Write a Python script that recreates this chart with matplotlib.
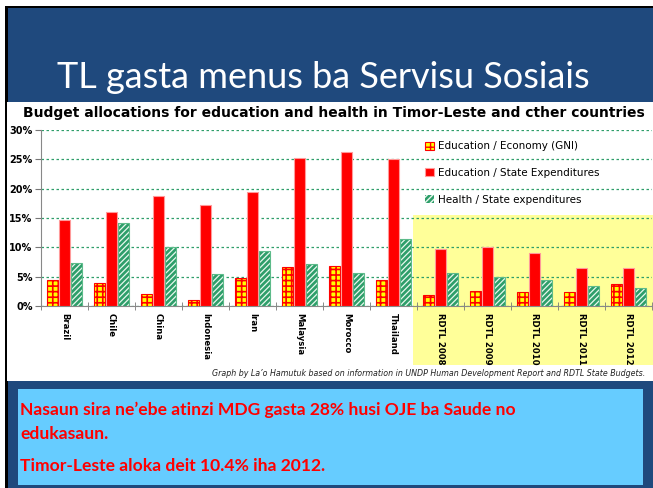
import matplotlib
matplotlib.use("Agg")
import matplotlib.pyplot as plt
import numpy as np
from matplotlib.patches import Rectangle

categories = ["Brazil", "Chile", "China", "Indonesia", "Iran", "Malaysia", "Morocco",
              "Thailand", "RDTL 2008", "RDTL 2009", "RDTL 2010", "RDTL 2011", "RDTL 2012"]
edu_gni = [4.5, 3.9, 2.0, 1.1, 4.8, 6.7, 6.9, 4.4, 1.8, 2.6, 2.4, 2.4, 3.8]
edu_state = [14.6, 16.0, 18.8, 17.3, 19.5, 25.2, 26.2, 25.0, 9.8, 10.1, 9.1, 6.5, 6.4]
health_state = [7.3, 14.1, 10.0, 5.4, 9.3, 7.1, 5.6, 11.4, 5.7, 4.9, 4.5, 3.4, 3.0]
series_labels = ["Education / Economy (GNI)", "Education / State Expenditures",
                 "Health / State expenditures"]
yticks = [0, 5, 10, 15, 20, 25, 30]

W, H = 653, 488
fig = plt.figure(figsize=(W / 100, H / 100), dpi=100)
fig.patch.set_facecolor("white")

def frect(x0, y0, x1, y1, z, **kw):
    # pixel coordinates measured from top-left
    r = Rectangle((x0 / W, 1 - y1 / H), (x1 - x0) / W, (y1 - y0) / H,
                  transform=fig.transFigure, zorder=z, **kw)
    fig.patches.append(r)
    return r

frect(5, 6, W, H, -5, facecolor="black", edgecolor="none")
frect(8, 8, W, H, -4, facecolor="#1F497D", edgecolor="none")
frect(7, 102, W, 381, -3, facecolor="white", edgecolor="none")
frect(18, 389, 643, 485, -2, facecolor="#66CCFF", edgecolor="none")
# highlight region for Timor-Leste
frect(413, 215, W, 365, -1, facecolor="#FFFF99", edgecolor="none")

fig.text(323 / W, 1 - 77 / H, "TL gasta menus ba Servisu Sosiais", color="white",
         fontsize=26, family="Lato", ha="center", va="center")
fig.text(334 / W, 1 - 113 / H,
         "Budget allocations for education and health in Timor-Leste and cther countries",
         fontsize=10, fontweight="bold", ha="center", va="center", color="black")

ax = fig.add_axes([41 / W, (H - 306) / H, 611 / W, 176 / H])
ax.set_zorder(2)
ax.set_facecolor("none")
x = np.arange(len(categories))
bw = 0.22
off = 0.255

with plt.rc_context({"hatch.linewidth": 1.2}):
    b1 = ax.bar(x - off, edu_gni, bw, facecolor="#FFFF00", edgecolor="#FF0000",
                hatch="+++", linewidth=0.8, zorder=3, label=series_labels[0])
b2 = ax.bar(x, edu_state, bw, facecolor="#FF0000", edgecolor="#FF9A9A",
            linewidth=0.8, zorder=3, label=series_labels[1])
with plt.rc_context({"hatch.linewidth": 0.9}):
    b3 = ax.bar(x + off, health_state, bw, facecolor="#2E9E6A", edgecolor="#E8F8EE",
                hatch="//////", linewidth=0, zorder=3, label=series_labels[2])
ax.bar(x + off, health_state, bw, fill=False, edgecolor="#5DBB8A", linewidth=0.8, zorder=4)

ax.set_xlim(-0.5, len(categories) - 0.5)
ax.set_ylim(0, 30)
ax.set_yticks(yticks)
ax.set_yticklabels([f"{v}%" for v in yticks], fontsize=7, fontweight="bold")
ax.yaxis.grid(True, color="#2E9E6A", linestyle=(0, (2, 2)), linewidth=0.9)
ax.set_axisbelow(True)
ax.set_xticks(x)
ax.set_xticklabels(categories, rotation=-90, fontsize=6.1, fontweight="bold",
                   va="top", ha="center")
ax.tick_params(axis="x", length=0, pad=5)
ax.set_xticks(np.arange(len(categories) + 1) - 0.5, minor=True)
ax.tick_params(axis="x", which="minor", length=6, direction="inout", color="#777777")
ax.tick_params(axis="y", length=4, color="#777777", pad=2)
for s in ["top", "right"]:
    ax.spines[s].set_visible(False)
ax.spines["left"].set_color("#888888")
ax.spines["bottom"].set_color("#888888")

leg = ax.legend(handles=[b1, b2, b3], loc="upper left",
                bbox_to_anchor=(416 / W, 1 - 132 / H), bbox_transform=fig.transFigure,
                frameon=False, fontsize=7.5, handlelength=0.8, handleheight=0.8,
                handletextpad=0.4, labelspacing=1.6)

fig.text(645 / W, 1 - 373 / H,
         "Graph by La\u2019o Hamutuk based on information in UNDP Human Development Report and RDTL State Budgets.",
         fontsize=5.7, style="italic", ha="right", va="center", color="#222222")

red = "#FF0000"
fig.text(20 / W, 1 - 410 / H, "Nasaun sira ne\u2019ebe atinzi MDG gasta 28% husi OJE ba Saude no",
         fontsize=12.6, fontweight="bold", family="Lato", color=red, va="center", ha="left")
fig.text(20 / W, 1 - 434 / H, "edukasaun.", fontsize=12.6, fontweight="bold", family="Lato",
         color=red, va="center", ha="left")
fig.text(20 / W, 1 - 466 / H, "Timor-Leste aloka deit 10.4% iha 2012.", fontsize=12.6,
         fontweight="bold", family="Lato", color=red, va="center", ha="left")

fig.savefig("out.png", dpi=100)
